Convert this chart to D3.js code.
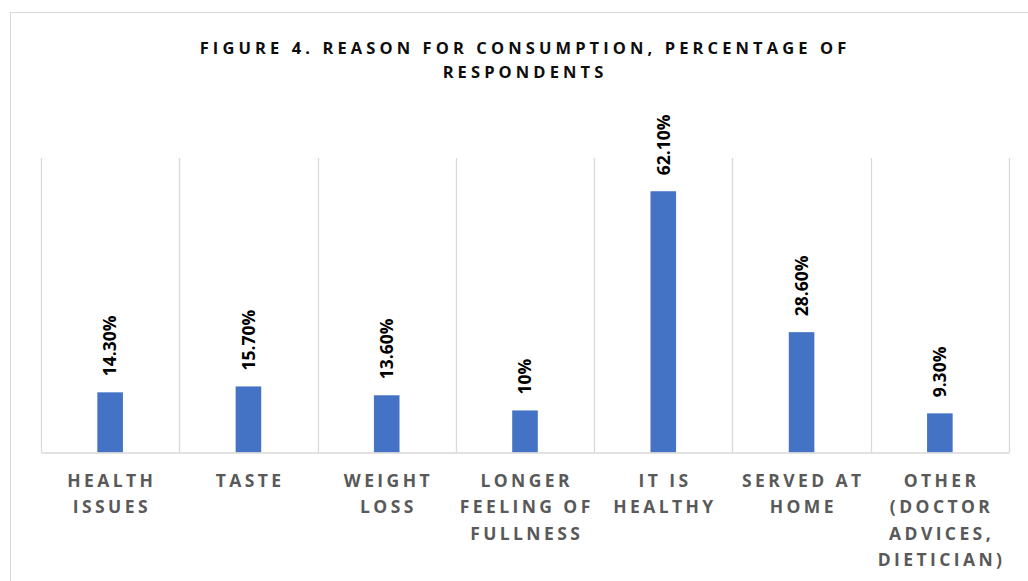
<!DOCTYPE html>
<html><head><meta charset="utf-8">
<script src="https://cdn.jsdelivr.net/npm/d3@7"></script>
<style>
html,body{margin:0;padding:0;background:#fff;}
svg{display:block;}
</style></head>
<body>
<svg id="chart" width="1028" height="581"></svg>
<script>
const categories = ["HEALTH\nISSUES","TASTE","WEIGHT\nLOSS","LONGER\nFEELING OF\nFULLNESS","IT IS\nHEALTHY","SERVED AT\nHOME","OTHER\n(DOCTOR\nADVICES,\nDIETICIAN)"];
const values = [14.3, 15.7, 13.6, 10, 62.1, 28.6, 9.3];
const valueLabels = ["14.30%","15.70%","13.60%","10%","62.10%","28.60%","9.30%"];
const titleLines = ["FIGURE 4. REASON FOR CONSUMPTION, PERCENTAGE OF","RESPONDENTS"];

const svg = d3.select("#chart");
const font = "'Open Sans', 'Noto Sans', sans-serif";

// outer chart border
svg.append("rect").attr("x",10.5).attr("y",12.5).attr("width",1040).attr("height",600)
  .attr("fill","#fff").attr("stroke","#d9d9d9").attr("stroke-width",1);

const plot = {left:41, right:1009, top:158, bottom:452.5};
const x = d3.scaleBand().domain(categories).range([plot.left, plot.right]).paddingInner(0).paddingOuter(0);
const y = d3.scaleLinear().domain([0,70]).range([plot.bottom, plot.top]);

// vertical gridlines at category boundaries
const bounds = categories.map(c => x(c)).concat([plot.right]);
svg.append("g").selectAll("line").data(bounds).join("line")
  .attr("x1", d => Math.round(d)+0.5).attr("x2", d => Math.round(d)+0.5)
  .attr("y1", y(70)).attr("y2", y(0))
  .attr("stroke","#d9d9d9").attr("stroke-width",1.3);

// bars
const bw = x.bandwidth()*0.185;
svg.append("g").selectAll("rect").data(values).join("rect")
  .attr("x",(d,i)=> x(categories[i]) + x.bandwidth()/2 - bw/2)
  .attr("y", d => y(d))
  .attr("width", bw)
  .attr("height", d => y(0)-y(d))
  .attr("fill","#4472C4");

// x axis
const xAxis = svg.append("g").attr("transform",`translate(0,${plot.bottom})`)
  .call(d3.axisBottom(x).tickSize(0).tickFormat(""));
xAxis.select(".domain").attr("stroke","#d9d9d9").attr("stroke-width",1.3);
xAxis.selectAll(".tick text").remove();
xAxis.selectAll(".tick").each(function(d){
  const lines = d.split("\n");
  const t = d3.select(this).append("text")
    .attr("text-anchor","middle").attr("fill","#595959")
    .style("font-family",font).style("font-size","17.5px").style("font-weight","700")
    .style("letter-spacing","3.4px");
  lines.forEach((ln,k)=>{
    t.append("tspan").attr("x",1.7).attr("y",34.5 + k*26.3).text(ln);
  });
});

// data labels (rotated)
svg.append("g").selectAll("text").data(values).join("text")
  .attr("transform",(d,i)=>`translate(${x(categories[i])+x.bandwidth()/2},${y(d)-16}) rotate(-90)`)
  .attr("dy","0.36em")
  .attr("text-anchor","start")
  .attr("fill","#000")
  .style("font-family",font).style("font-size","17.5px").style("font-weight","700")
  .text((d,i)=>valueLabels[i]);

// title
const title = svg.append("text").attr("text-anchor","middle").attr("fill","#0d0d0d")
  .style("font-family",font).style("font-size","16.5px").style("font-weight","700")
  .style("letter-spacing","4.1px");
titleLines.forEach((ln,k)=>{
  title.append("tspan").attr("x",525).attr("y",54 + k*24.3).text(ln);
});
</script>
</body></html>
